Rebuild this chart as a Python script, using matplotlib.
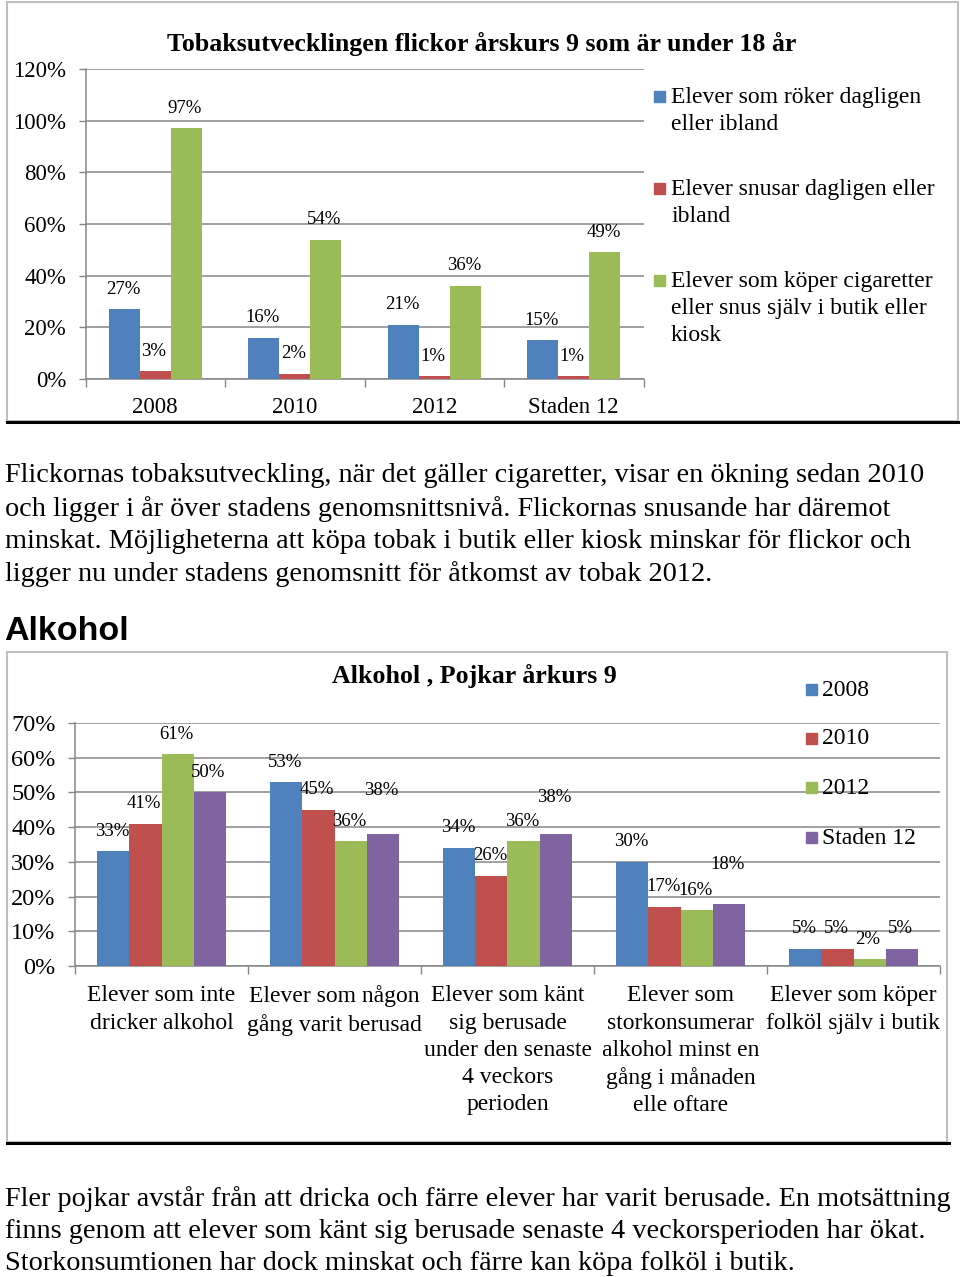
import numpy as np
import matplotlib
matplotlib.use("Agg")
import matplotlib.pyplot as plt
from matplotlib.patches import Rectangle
from matplotlib.lines import Line2D

plt.rcParams['font.family'] = ['Liberation Serif', 'DejaVu Serif']

# --- data, chart 1 (tobacco, girls)
tob_groups = ["2008", "2010", "2012", "Staden 12"]
tob_series = ["Elever som röker dagligen\neller ibland",
              "Elever snusar dagligen eller\nibland",
              "Elever som köper cigaretter\neller snus själv i butik eller\nkiosk"]
tob_smoke = [27, 16, 21, 15]
tob_snus = [3, 2, 1, 1]
tob_buy = [97, 54, 36, 49]
tob_yticks = [0, 20, 40, 60, 80, 100, 120]

# --- data, chart 2 (alcohol, boys)
alc_groups = ["Elever som inte\ndricker alkohol",
              "Elever som någon\ngång varit berusad",
              "Elever som känt\nsig berusade\nunder den senaste\n4 veckors\nperioden",
              "Elever som\nstorkonsumerar\nalkohol minst en\ngång i månaden\nelle oftare",
              "Elever som köper\nfolköl själv i butik"]
alc_years = ["2008", "2010", "2012", "Staden 12"]
alc_2008 = [33, 53, 34, 30, 5]
alc_2010 = [41, 45, 26, 17, 5]
alc_2012 = [61, 36, 36, 16, 2]
alc_staden = [50, 38, 38, 18, 5]
alc_yticks = [0, 10, 20, 30, 40, 50, 60, 70]

text1 = ["Flickornas tobaksutveckling, när det gäller cigaretter, visar en ökning sedan 2010",
         "och ligger i år över stadens genomsnittsnivå. Flickornas snusande har däremot",
         "minskat. Möjligheterna att köpa tobak i butik eller kiosk minskar för flickor och",
         "ligger nu under stadens genomsnitt för åtkomst av tobak 2012."]
text2 = ["Fler pojkar avstår från att dricka och färre elever har varit berusade. En motsättning",
         "finns genom att elever som känt sig berusade senaste 4 veckorsperioden har ökat.",
         "Storkonsumtionen har dock minskat och färre kan köpa folköl i butik."]

colors = ["#4F81BD", "#C0504D", "#9BBB59", "#8064A2"]

W, H = 960, 1277
fig = plt.figure(figsize=(W / 100, H / 100), dpi=100)


def fx(px):
    return px / W


def fy(py):
    return 1 - py / H


def frame(x0, y0, x1, y1):
    fig.patches.append(Rectangle((fx(x0), fy(y1)), fx(x1) - fx(x0), fy(y0) - fy(y1),
                                 transform=fig.transFigure, fill=False,
                                 edgecolor="#bfbfbf", lw=1.5))
    fig.lines.append(Line2D([fx(x0), fx(x1 + 2)], [fy(y1 + 1), fy(y1 + 1)],
                            transform=fig.transFigure, color="black", lw=2.2))


def bar_chart(rect, groups, series, ymax, yticks, width, ysize, raised=None):
    # raised: {(series index, group index): extra label lift in px}
    raised = raised or {}
    ax = fig.add_axes(rect)
    n = len(series)
    x = np.arange(len(groups))
    for i, vals in enumerate(series):
        pos = x + (i - (n - 1) / 2) * width
        ax.bar(pos, vals, width, color=colors[i], zorder=3)
        for j, (p, v) in enumerate(zip(pos, vals)):
            lift = 20 + raised.get((i, j), 0)
            ax.annotate(f"{v}%", (p, v), xytext=(-1, lift * 0.72), textcoords="offset points",
                        ha="center", va="center", fontsize=13.5)
    ax.set_xlim(-0.5, len(groups) - 0.5)
    ax.set_ylim(0, ymax)
    ax.set_yticks(yticks)
    ax.set_yticklabels([f"{t}%" for t in yticks], fontsize=ysize)
    ax.set_xticks(x)
    ax.set_xticks(np.arange(len(groups) + 1) - 0.5, minor=True)
    ax.tick_params(axis="x", which="major", length=0)
    ax.tick_params(axis="x", which="minor", length=6, color="#868686", width=1)
    ax.tick_params(axis="y", length=5, color="#868686", width=1, pad=9)
    ax.grid(axis="y", color="#868686", lw=1.1, zorder=0)
    for s in ["top", "right"]:
        ax.spines[s].set_visible(False)
    for s in ["left", "bottom"]:
        ax.spines[s].set_color("#868686")
        ax.spines[s].set_linewidth(1.1)
    return ax


def paragraph(lines, y_first, step):
    for k, line in enumerate(lines):
        fig.text(fx(5), fy(y_first + k * step), line, ha="left", va="center",
                 fontsize=20.3)


# ---------------- chart 1
frame(7, 2, 958, 421)
ax1 = bar_chart([fx(85.5), fy(379), fx(643.5) - fx(85.5), fy(69) - fy(379)],
                tob_groups, [tob_smoke, tob_snus, tob_buy], 120, tob_yticks, 0.222, 16.5)
ax1.set_xticklabels(tob_groups, fontsize=16.5)
ax1.tick_params(axis="x", which="major", pad=13)
fig.text(fx(482), fy(44), "Tobaksutvecklingen flickor årskurs 9 som är under 18 år",
         ha="center", va="center", fontsize=18.6, fontweight="bold")
for i, (lab, ly) in enumerate(zip(tob_series, [96, 188, 280])):
    fig.patches.append(Rectangle((fx(654), fy(ly + 6)), fx(11), 11 / H,
                                 transform=fig.transFigure, color=colors[i]))
    fig.text(fx(671), fy(ly - 9), lab, ha="left", va="top", fontsize=17,
             linespacing=1.38)

# text paragraph 1
paragraph(text1, 476, 32.7)
fig.text(fx(4), fy(631), "Alkohol", ha="left", va="center", fontsize=24.5,
         fontweight="bold", family=["Liberation Sans", "DejaVu Sans"])

# ---------------- chart 2
frame(7, 652, 947, 1142)
ax2 = bar_chart([fx(75), fy(966), fx(940) - fx(75), fy(723) - fy(966)],
                alc_groups, [alc_2008, alc_2010, alc_2012, alc_staden], 70, alc_yticks, 0.185,
                17.5, raised={(3, 1): 24, (3, 2): 17, (3, 3): 19})
ax2.set_xticklabels(alc_groups, fontsize=17, linespacing=1.38, va="top")
ax2.tick_params(axis="x", which="major", pad=14)
fig.text(fx(474), fy(676), "Alkohol , Pojkar årkurs 9",
         ha="center", va="center", fontsize=18.6, fontweight="bold")
for i, (lab, ly) in enumerate(zip(alc_years, [690, 739, 788, 838])):
    fig.patches.append(Rectangle((fx(806), fy(ly + 5)), fx(11), 11 / H,
                                 transform=fig.transFigure, color=colors[i]))
    fig.text(fx(822), fy(ly), lab, ha="left", va="center", fontsize=17)

# text paragraph 2
paragraph(text2, 1199, 32.5)

fig.savefig("out.png", dpi=100)
